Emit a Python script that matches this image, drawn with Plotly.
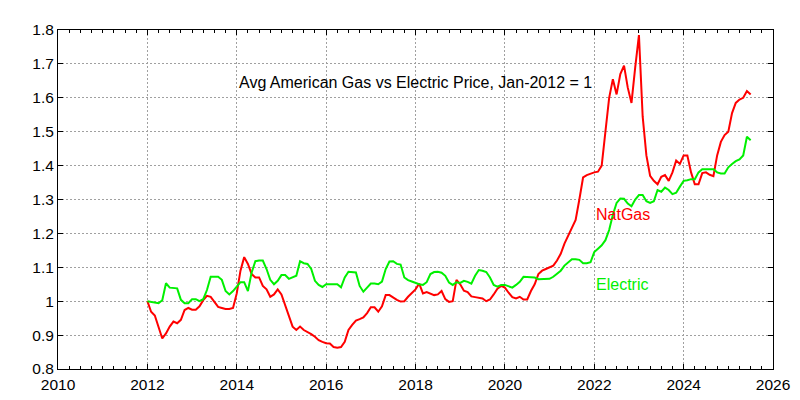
import plotly.graph_objects as go

start_year = 2012
natgas = [
    1.000, 0.969, 0.958, 0.925, 0.890, 0.905, 0.925, 0.940, 0.935, 0.945, 0.974, 0.980,
    0.975, 0.975, 0.985, 1.003, 1.016, 1.013, 0.998, 0.983, 0.980, 0.977, 0.977, 0.980,
    1.023, 1.090, 1.130, 1.110, 1.080, 1.070, 1.070, 1.045, 1.035, 1.013, 1.020, 1.035,
    1.020, 0.990, 0.955, 0.925, 0.915, 0.925, 0.915, 0.910, 0.903, 0.895, 0.885, 0.880,
    0.876, 0.875, 0.865, 0.863, 0.865, 0.880, 0.915, 0.930, 0.943, 0.947, 0.952, 0.965,
    0.982, 0.982, 0.969, 0.985, 1.018, 1.018, 1.010, 1.004, 0.999, 1.000, 1.013, 1.025,
    1.035, 1.052, 1.023, 1.027, 1.023, 1.018, 1.020, 1.030, 1.006, 0.998, 1.000, 1.063,
    1.050, 1.031, 1.027, 1.014, 1.012, 1.011, 1.008, 1.000, 1.005, 1.020, 1.037, 1.045,
    1.040, 1.025, 1.012, 1.008, 1.013, 1.005, 1.005, 1.030, 1.050, 1.080, 1.090, 1.095,
    1.100, 1.105, 1.120, 1.140, 1.170, 1.195, 1.215, 1.240, 1.300, 1.365, 1.372, 1.377,
    1.380, 1.382, 1.400, 1.500, 1.600, 1.655, 1.610, 1.670, 1.695, 1.630, 1.585, 1.690,
    1.785, 1.545, 1.430, 1.370, 1.355, 1.345, 1.367, 1.372, 1.355, 1.380, 1.415, 1.405,
    1.430, 1.430, 1.380, 1.345, 1.345, 1.378, 1.380, 1.373, 1.369, 1.430, 1.470, 1.490,
    1.500, 1.555, 1.585, 1.595, 1.600, 1.620, 1.610,
]
electric = [
    1.000, 0.998, 0.994, 0.994, 1.003, 1.053, 1.040, 1.040, 1.038, 1.004, 0.994, 0.994,
    1.006, 1.006, 1.000, 1.006, 1.033, 1.072, 1.072, 1.072, 1.063, 1.030, 1.020, 1.030,
    1.043, 1.056, 1.056, 1.030, 1.085, 1.118, 1.120, 1.120, 1.095, 1.063, 1.050, 1.060,
    1.077, 1.077, 1.066, 1.070, 1.075, 1.118, 1.112, 1.110, 1.095, 1.060, 1.048, 1.042,
    1.050, 1.050, 1.050, 1.050, 1.041, 1.070, 1.087, 1.087, 1.085, 1.045, 1.028, 1.040,
    1.052, 1.052, 1.050, 1.058, 1.095, 1.117, 1.118, 1.110, 1.108, 1.070, 1.062, 1.058,
    1.053, 1.050, 1.048, 1.056, 1.080, 1.086, 1.087, 1.084, 1.075, 1.055, 1.048, 1.056,
    1.054, 1.060, 1.057, 1.052, 1.075, 1.092, 1.090, 1.086, 1.070, 1.048, 1.043, 1.048,
    1.048, 1.045, 1.040, 1.048, 1.057, 1.072, 1.072, 1.072, 1.070, 1.065, 1.065, 1.065,
    1.066, 1.072, 1.080, 1.090, 1.105, 1.115, 1.124, 1.124, 1.122, 1.112, 1.112, 1.115,
    1.145, 1.155, 1.165, 1.180, 1.210, 1.255, 1.290, 1.303, 1.302, 1.288, 1.280, 1.300,
    1.313, 1.313, 1.295, 1.290, 1.295, 1.328, 1.323, 1.335, 1.328, 1.316, 1.320, 1.338,
    1.355, 1.357, 1.360, 1.360, 1.380, 1.389, 1.389, 1.387, 1.389, 1.380, 1.377, 1.377,
    1.395, 1.405, 1.413, 1.418, 1.430, 1.485, 1.475,
]
x_ticks = [2010, 2012, 2014, 2016, 2018, 2020, 2022, 2024, 2026]
y_ticks = [0.8, 0.9, 1.0, 1.1, 1.2, 1.3, 1.4, 1.5, 1.6, 1.7, 1.8]
y_labels = ["0.8", "0.9", "1", "1.1", "1.2", "1.3", "1.4", "1.5", "1.6", "1.7", "1.8"]
title_text = "Avg American Gas vs Electric Price, Jan-2012 = 1"

months = [start_year + i / 12 for i in range(len(natgas))]

RED = "#ff0000"
GREEN = "#00f000"
FONT = "Liberation Sans, Arial, sans-serif"

fig = go.Figure()
fig.add_trace(go.Scatter(x=months, y=natgas, mode="lines",
                         line=dict(color=RED, width=2), name="NatGas"))
fig.add_trace(go.Scatter(x=months, y=electric, mode="lines",
                         line=dict(color=GREEN, width=2), name="Electric"))

axis_common = dict(
    showgrid=True, gridcolor="#a0a0a0", gridwidth=1, griddash="2px,2px",
    showline=True, linecolor="black", linewidth=1, mirror="ticks",
    ticks="inside", ticklen=5, tickcolor="black", tickwidth=1,
    zeroline=False, automargin=False,
    tickfont=dict(family=FONT, size=15.5, color="black"),
)

fig.update_xaxes(range=[2010, 2026], tickvals=x_ticks,
                 ticktext=[str(v) for v in x_ticks],
                 ticklabelstandoff=1,
                 minor=dict(dtick=0.25, tick0=2010, ticks="inside", ticklen=3,
                            tickcolor="black", showgrid=False),
                 **axis_common)
fig.update_yaxes(range=[0.8, 1.8], tickvals=y_ticks, ticktext=y_labels,
                 **axis_common)

fig.add_annotation(x=2014.0, y=1.645, xref="x", yref="y", text=title_text,
                   showarrow=False, xanchor="left", yanchor="middle",
                   font=dict(family=FONT, size=16, color="black"))
fig.add_annotation(x=2022.0, y=1.255, xref="x", yref="y", text="NatGas",
                   showarrow=False, xanchor="left", yanchor="middle",
                   font=dict(family=FONT, size=16, color=RED))
fig.add_annotation(x=2022.0, y=1.05, xref="x", yref="y", text="Electric",
                   showarrow=False, xanchor="left", yanchor="middle",
                   font=dict(family=FONT, size=16, color=GREEN))

fig.update_layout(
    width=800, height=400,
    margin=dict(l=58, r=27, t=30, b=31),
    plot_bgcolor="white", paper_bgcolor="white",
    showlegend=False,
    font=dict(family=FONT, size=15.5, color="black"),
)

fig.write_html("out.html")
